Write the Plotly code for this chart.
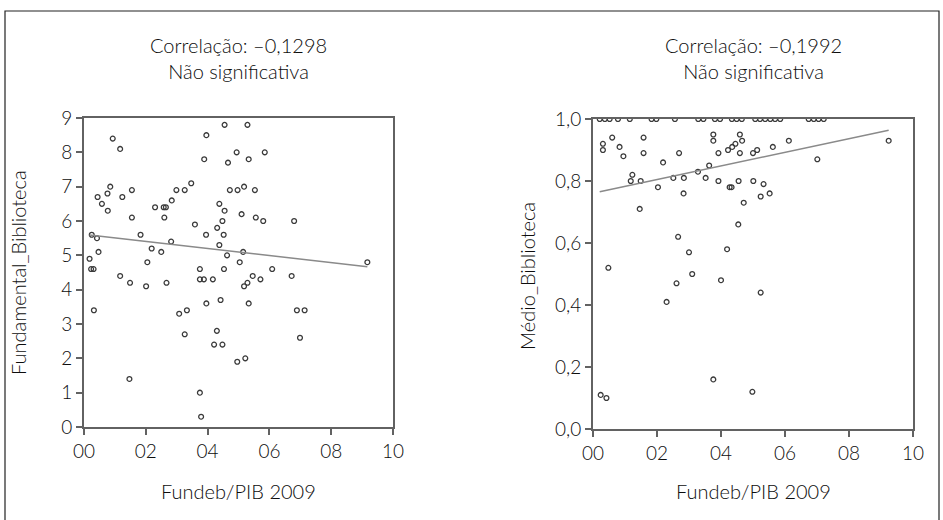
import numpy as np
import plotly.graph_objects as go

# ---- data: left panel (Fundeb/PIB 2009 vs Fundamental_Biblioteca) ----
left_x = [0.18, 0.25, 0.42, 0.47, 0.44, 0.58, 0.77, 0.76, 0.85, 0.93, 1.17, 1.24, 1.55, 1.55,
          1.83, 2.30, 2.58, 2.65, 2.60, 2.19, 2.50, 2.05, 2.84, 2.99, 3.26, 3.47, 2.82, 3.59,
          3.89, 3.96, 3.95, 4.38, 4.55, 4.31, 4.48, 4.52, 4.38, 4.63, 4.55, 4.66, 4.72, 4.94,
          4.97, 5.10, 5.04, 5.29, 5.85, 5.33, 5.18, 5.53, 5.56, 5.80, 6.80, 5.15, 6.09, 9.17,
          0.23, 0.31, 0.32, 1.17, 1.49, 1.47, 2.01, 2.67, 3.08, 3.33, 3.26, 3.75, 3.75, 3.88,
          3.96, 3.75, 3.79, 4.17, 4.42, 4.30, 4.21, 4.48, 4.53, 4.96, 5.46, 5.29, 5.18, 5.71,
          6.72, 5.33, 6.89, 7.14, 6.99, 5.22]
left_y = [4.9, 5.6, 5.5, 5.1, 6.7, 6.5, 6.3, 6.8, 7.0, 8.4, 8.1, 6.7, 6.9, 6.1,
          5.6, 6.4, 6.4, 6.4, 6.1, 5.2, 5.1, 4.8, 6.6, 6.9, 6.9, 7.1, 5.4, 5.9,
          7.8, 8.5, 5.6, 6.5, 6.3, 5.8, 6.0, 5.6, 5.3, 5.0, 8.8, 7.7, 6.9, 8.0,
          6.9, 6.2, 4.8, 8.8, 8.0, 7.8, 7.0, 6.9, 6.1, 6.0, 6.0, 5.1, 4.6, 4.8,
          4.6, 4.6, 3.4, 4.4, 4.2, 1.4, 4.1, 4.2, 3.3, 3.4, 2.7, 4.6, 4.3, 4.3,
          3.6, 1.0, 0.3, 4.3, 3.7, 2.8, 2.4, 2.4, 4.6, 1.9, 4.4, 4.2, 4.1, 4.3,
          4.4, 3.6, 3.4, 3.4, 2.6, 2.0]

# ---- data: right panel (Fundeb/PIB 2009 vs Médio_Biblioteca) ----
right_x = [0.21, 0.37, 0.52, 0.78, 1.15, 1.83, 1.98, 2.56, 3.29, 3.45, 3.81, 3.97, 4.34,
           4.49, 4.65, 5.07, 5.22, 5.38, 5.54, 5.69, 5.85, 6.74, 6.90, 7.05, 7.21,
           0.31, 0.31, 0.60, 0.83, 0.95, 1.23, 1.18, 1.49, 1.58, 1.58, 2.03, 2.19, 2.69,
           2.51, 2.84, 2.83, 3.28, 3.52, 3.63, 3.76, 3.76, 3.92, 3.92, 4.22, 4.27, 1.46,
           4.59, 4.66, 4.45, 4.35, 4.59, 5.00, 5.13, 5.62, 6.12, 7.01, 9.24, 4.33, 4.55,
           5.01, 5.33, 5.24, 5.52, 4.71, 4.54, 4.19, 4.00, 5.24, 4.98, 0.48, 0.24, 0.42,
           2.66, 3.00, 3.10, 2.61, 2.30, 3.76]
right_y = [1.0, 1.0, 1.0, 1.0, 1.0, 1.0, 1.0, 1.0, 1.0, 1.0, 1.0, 1.0, 1.0,
           1.0, 1.0, 1.0, 1.0, 1.0, 1.0, 1.0, 1.0, 1.0, 1.0, 1.0, 1.0,
           0.92, 0.90, 0.94, 0.91, 0.88, 0.82, 0.80, 0.80, 0.94, 0.89, 0.78, 0.86, 0.89,
           0.81, 0.81, 0.76, 0.83, 0.81, 0.85, 0.95, 0.93, 0.89, 0.80, 0.90, 0.78, 0.71,
           0.95, 0.93, 0.92, 0.91, 0.89, 0.89, 0.90, 0.91, 0.93, 0.87, 0.93, 0.78, 0.80,
           0.80, 0.79, 0.75, 0.76, 0.73, 0.66, 0.58, 0.48, 0.44, 0.12, 0.52, 0.11, 0.10,
           0.62, 0.57, 0.50, 0.47, 0.41, 0.16]

# fitted regression lines: [intercept, slope]
left_fit = [5.608, -0.1022]
right_fit = [0.761, 0.02195]

x_tickvals = [0, 2, 4, 6, 8, 10]
x_ticktext = ["00", "02", "04", "06", "08", "10"]
left_yticks = [0, 1, 2, 3, 4, 5, 6, 7, 8, 9]
right_yticks = [0.0, 0.2, 0.4, 0.6, 0.8, 1.0]
right_yticktext = ["0,0", "0,2", "0,4", "0,6", "0,8", "1,0"]

titles = ["Correlação: –0,1298<br>Não significativa",
          "Correlação: –0,1992<br>Não significativa"]
x_title = "Fundeb/PIB 2009"
y_titles = ["Fundamental_Biblioteca", "Médio_Biblioteca"]

W, H = 943, 520
FONT = "Lato"
TXT = "#0d0d0d"
mk = dict(symbol="circle-open", size=4.8, color="#3a3a3a", line=dict(width=1.3, color="#3a3a3a"))
line_style = dict(color="#8a8a8a", width=1.5)


def fit_line(xs, coef):
    xx = np.array([min(xs), max(xs)])
    return xx, coef[0] + coef[1] * xx


fig = go.Figure()
fig.add_trace(go.Scatter(x=left_x, y=left_y, mode="markers", marker=mk, xaxis="x", yaxis="y",
                         showlegend=False))
lx, ly = fit_line(left_x, left_fit)
fig.add_trace(go.Scatter(x=lx, y=ly, mode="lines", line=line_style, xaxis="x", yaxis="y",
                         showlegend=False))
fig.add_trace(go.Scatter(x=right_x, y=right_y, mode="markers", marker=mk, xaxis="x2", yaxis="y2",
                         showlegend=False))
rx, ry = fit_line(right_x, right_fit)
fig.add_trace(go.Scatter(x=rx, y=ry, mode="lines", line=line_style, xaxis="x2", yaxis="y2",
                         showlegend=False))


def px_x(p):
    return p / W


def px_y(p):
    return 1 - p / H


axis_common = dict(showline=True, mirror=True, linecolor="#626262", linewidth=2,
                   ticks="outside", ticklen=6, tickwidth=1.5, tickcolor="#626262",
                   showgrid=False, zeroline=False, automargin=False,
                   tickfont=dict(family=FONT, size=19, color=TXT, weight=300))

fig.update_layout(
    width=W, height=H,
    margin=dict(l=0, r=0, t=0, b=0, pad=0),
    paper_bgcolor="white", plot_bgcolor="white",
    font=dict(family=FONT, color=TXT),
    xaxis=dict(domain=[px_x(84), px_x(393)], range=[0, 10], tickvals=x_tickvals,
               ticktext=x_ticktext, anchor="y", **axis_common),
    yaxis=dict(domain=[px_y(427), px_y(118)], range=[0, 9], tickvals=left_yticks,
               anchor="x", **axis_common),
    xaxis2=dict(domain=[px_x(593), px_x(913)], range=[0, 10], tickvals=x_tickvals,
                ticktext=x_ticktext, anchor="y2", **axis_common),
    yaxis2=dict(domain=[px_y(429), px_y(119)], range=[0, 1.0], tickvals=right_yticks,
                ticktext=right_yticktext, anchor="x2", **axis_common),
)

annots = []
centers = [(84 + 393) / 2, (593 + 913) / 2]
tfont = dict(family=FONT, size=20, color=TXT, weight=300)
for c, t in zip(centers, titles):
    annots.append(dict(text=t, x=px_x(c), y=px_y(58), xref="paper", yref="paper",
                       xanchor="center", yanchor="middle", showarrow=False, font=tfont))
    annots.append(dict(text=x_title, x=px_x(c), y=px_y(491), xref="paper", yref="paper",
                       xanchor="center", yanchor="middle", showarrow=False, font=tfont))
for xc, yc, t in [(18, 273, y_titles[0]), (527, 276, y_titles[1])]:
    annots.append(dict(text=t, x=px_x(xc), y=px_y(yc), xref="paper", yref="paper",
                       xanchor="center", yanchor="middle", textangle=-90, showarrow=False,
                       font=tfont))
fig.update_layout(annotations=annots)

fig.add_shape(type="rect", xref="paper", yref="paper",
              x0=px_x(5), x1=px_x(939), y0=px_y(540), y1=px_y(11),
              line=dict(color="#222222", width=1.2), fillcolor="rgba(0,0,0,0)")

fig.write_html("out.html", post_script="document.body.style.margin='0';")
